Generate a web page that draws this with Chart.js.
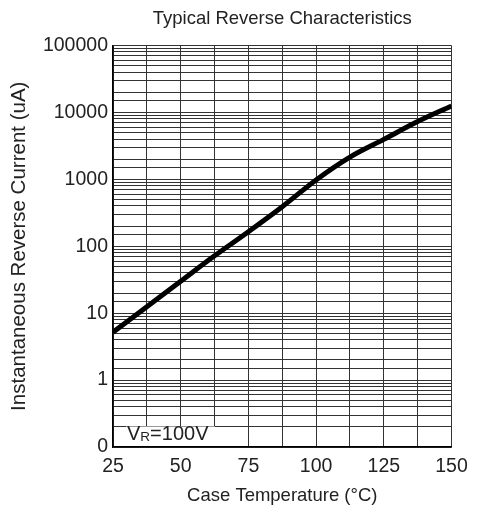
<!DOCTYPE html>
<html lang="en">
<head>
    <meta charset="UTF-8">
    <title>Typical Reverse Characteristics</title>
    <script src="https://cdnjs.cloudflare.com/ajax/libs/Chart.js/4.4.0/chart.umd.min.js"></script>
    <style>
        html, body {
            margin: 0;
            padding: 0;
            background: #fff;
        }
        .chart-box {
            width: 485px;
            height: 513px;
        }
    </style>
</head>
<body>
    <div class="chart-box">
        <canvas id="reverseChart"></canvas>
    </div>

    <script>
        // Case temperature (°C) and reverse current (uA)
        const temps = [25, 37.5, 50, 62.5, 75, 87.5, 100, 112.5, 125, 137.5, 150];
        const current = [5.2, 12.5, 30, 72, 165, 390, 980, 2150, 3950, 7300, 12500];

        const xMin = 25, xMax = 150, xStep = 12.5;
        const yMin = 0.1, yMax = 100000;

        const fontFamily = '"Liberation Sans", Arial, sans-serif';
        const textColor = '#222';

        // V_R=100V note in the lower left corner
        const vrLabel = {
            id: 'vrLabel',
            beforeDatasetsDraw(chart) {
                const { ctx, chartArea } = chart;
                const x = chartArea.left + 13;
                const base = chartArea.bottom - 7.5;
                ctx.save();
                ctx.fillStyle = '#fff';
                ctx.fillRect(x, chartArea.bottom - 20.5, 89, 19.5);
                ctx.fillStyle = textColor;
                ctx.textBaseline = 'alphabetic';
                ctx.textAlign = 'left';
                ctx.font = '20px ' + fontFamily;
                ctx.fillText('V', x + 1, base);
                let w = ctx.measureText('V').width;
                ctx.font = '13.5px ' + fontFamily;
                ctx.fillText('R', x + 1 + w, base + 1.5);
                w += ctx.measureText('R').width;
                ctx.font = '20px ' + fontFamily;
                ctx.fillText('=100V', x + 1 + w, base);
                ctx.restore();
            }
        };

        function isDecade(v) {
            const l = Math.log10(v);
            return Math.abs(l - Math.round(l)) < 1e-6;
        }

        new Chart(document.getElementById('reverseChart'), {
            type: 'line',
            data: {
                labels: temps,
                datasets: [{
                    data: temps.map((t, i) => ({ x: t, y: current[i] })),
                    borderColor: '#000',
                    borderWidth: 5,
                    pointRadius: 0,
                    cubicInterpolationMode: 'monotone',
                    fill: false
                }]
            },
            options: {
                responsive: true,
                maintainAspectRatio: false,
                animation: false,
                layout: {
                    padding: { left: 0, right: 33.5, top: 0, bottom: 0 }
                },
                plugins: {
                    legend: { display: false },
                    tooltip: { enabled: false },
                    title: {
                        display: true,
                        fullSize: false,
                        text: 'Typical Reverse Characteristics',
                        color: textColor,
                        font: { family: fontFamily, size: 18.5, weight: 'normal' },
                        padding: { top: 8, bottom: 15.3 }
                    }
                },
                scales: {
                    x: {
                        type: 'linear',
                        min: xMin,
                        max: xMax,
                        afterFit(scale) { scale.height = 66; },
                        border: { color: '#000', width: 1.5 },
                        grid: { color: '#333', lineWidth: 1, drawTicks: false },
                        ticks: {
                            stepSize: xStep,
                            autoSkip: false,
                            maxRotation: 0,
                            padding: 8,
                            color: textColor,
                            font: { family: fontFamily, size: 19.5 },
                            callback: v => (v % 25 === 0 ? String(v) : '')
                        },
                        title: {
                            display: true,
                            text: 'Case Temperature (°C)',
                            color: textColor,
                            font: { family: fontFamily, size: 18.5 },
                            padding: { top: 0, bottom: 6 }
                        }
                    },
                    y: {
                        type: 'logarithmic',
                        min: yMin,
                        max: yMax,
                        afterFit(scale) { scale.width = 113; },
                        border: { color: '#000', width: 1.5 },
                        grid: { color: '#333', lineWidth: 1, drawTicks: false },
                        ticks: {
                            autoSkip: false,
                            padding: 5,
                            color: textColor,
                            font: { family: fontFamily, size: 19.5 },
                            callback: v => (isDecade(v) ? (v < 1 ? '0' : String(Math.round(v))) : '')
                        },
                        title: {
                            display: true,
                            text: 'Instantaneous Reverse Current (uA)',
                            color: textColor,
                            font: { family: fontFamily, size: 20.5 },
                            padding: { top: 7, bottom: 0 }
                        }
                    }
                }
            },
            plugins: [vrLabel]
        });
    </script>
</body>
</html>
